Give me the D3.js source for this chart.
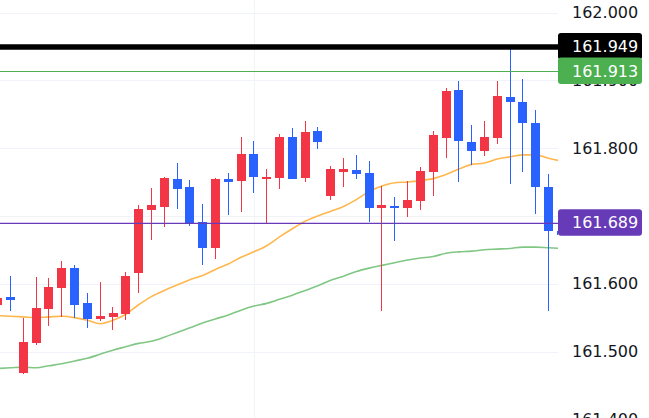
<!DOCTYPE html>
<html>
<head>
<meta charset="utf-8">
<script src="https://cdn.jsdelivr.net/npm/d3@7"></script>
<style>
  html, body { margin: 0; padding: 0; background: #ffffff; overflow: hidden; }
  svg { display: block; }
</style>
</head>
<body>
<div id="chart"></div>
<script>
// ---------- data ----------
const categories = d3.range(1, 46).map(String);
const open  = [161.568,161.581,161.469,161.513,161.562,161.594,161.623,161.571,161.548,161.551,161.555,161.616,161.709,161.713,161.754,161.743,161.691,161.653,161.754,161.752,161.791,161.756,161.756,161.816,161.756,161.825,161.730,161.765,161.768,161.764,161.711,161.715,161.712,161.722,161.765,161.815,161.886,161.809,161.796,161.815,161.875,161.868,161.837,161.743,161.678];
const high  = [161.588,161.611,161.549,161.610,161.608,161.633,161.628,161.586,161.603,161.566,161.617,161.716,161.741,161.757,161.778,161.753,161.718,161.756,161.763,161.816,161.810,161.769,161.821,161.830,161.840,161.831,161.774,161.785,161.790,161.781,161.744,161.728,161.751,161.772,161.825,161.889,161.899,161.834,161.840,161.899,161.949,161.902,161.856,161.762,161.685];
const low   = [161.564,161.560,161.467,161.510,161.537,161.551,161.550,161.534,161.545,161.531,161.546,161.587,161.664,161.684,161.710,161.685,161.627,161.637,161.702,161.706,161.734,161.689,161.739,161.755,161.750,161.798,161.724,161.742,161.755,161.691,161.560,161.663,161.699,161.709,161.729,161.786,161.750,161.775,161.788,161.806,161.747,161.765,161.703,161.560,161.665];
const close = [161.579,161.576,161.514,161.564,161.595,161.623,161.569,161.548,161.552,161.557,161.611,161.710,161.716,161.756,161.740,161.690,161.653,161.754,161.750,161.791,161.758,161.757,161.816,161.755,161.824,161.809,161.769,161.769,161.762,161.712,161.716,161.712,161.723,161.766,161.819,161.884,161.811,161.796,161.816,161.877,161.868,161.837,161.742,161.678,161.672];
const maFast = [161.553,161.552,161.551,161.550,161.551,161.552,161.550,161.546,161.541,161.546,161.555,161.569,161.581,161.590,161.598,161.606,161.612,161.621,161.629,161.639,161.647,161.656,161.669,161.681,161.692,161.700,161.707,161.714,161.724,161.736,161.744,161.749,161.750,161.752,161.755,161.761,161.769,161.776,161.778,161.784,161.787,161.790,161.790,161.785,161.781];
const maSlow = [161.475,161.476,161.477,161.476,161.479,161.482,161.486,161.490,161.496,161.502,161.507,161.512,161.515,161.521,161.528,161.535,161.542,161.548,161.554,161.561,161.567,161.571,161.577,161.583,161.590,161.597,161.605,161.611,161.618,161.623,161.627,161.631,161.635,161.638,161.640,161.645,161.647,161.648,161.650,161.651,161.652,161.654,161.654,161.653,161.652];
const tickValues = [161.4, 161.5, 161.6, 161.7, 161.8, 161.9, 162.0];
const levelValues = [161.949, 161.913, 161.689];
const levelLabels = ["161.949", "161.913", "161.689"];
const verticalGridCategories = ["21"];

// ---------- layout ----------
const W = 649, H = 418;
const plotRight = 558;
const upColor = "#f23645", downColor = "#2962ff";
const levelStyles = [
  { color: "#000000", width: 5.5, box: "#000000" },
  { color: "#4caf50", width: 1,   box: "#4caf50" },
  { color: "#673ab7", width: 1.3, box: "#673ab7" }
];

const svg = d3.select("#chart").append("svg").attr("width", W).attr("height", H);

const x = d3.scaleBand().domain(categories).range([-8.7, 567.7]).paddingInner(0.3).paddingOuter(0.15);
const y = d3.scaleLinear().domain([161.4, 162.0]).range([419.3, 12.5]);
const cx = c => x(c) + x.bandwidth() / 2;

svg.append("defs").append("clipPath").attr("id", "plotClip")
  .append("rect").attr("x", 0).attr("y", 0).attr("width", plotRight).attr("height", H);

const plot = svg.append("g").attr("clip-path", "url(#plotClip)");

// gridlines
plot.append("g").selectAll("line.h").data(tickValues).join("line")
  .attr("x1", 0).attr("x2", plotRight)
  .attr("y1", d => Math.round(y(d)) + 0.5).attr("y2", d => Math.round(y(d)) + 0.5)
  .attr("stroke", "#f0f3fa").attr("stroke-width", 1);
plot.append("g").selectAll("line.v").data(verticalGridCategories).join("line")
  .attr("x1", d => Math.round(cx(d)) + 0.5).attr("x2", d => Math.round(cx(d)) + 0.5)
  .attr("y1", 0).attr("y2", H)
  .attr("stroke", "#f0f3fa").attr("stroke-width", 1);

// moving averages
const line = d3.line().x((d, i) => cx(categories[i])).y(d => y(d)).curve(d3.curveMonotoneX);
plot.append("path").datum(maSlow).attr("d", line)
  .attr("fill", "none").attr("stroke", "#81c784").attr("stroke-width", 1.6);
plot.append("path").datum(maFast).attr("d", line)
  .attr("fill", "none").attr("stroke", "#ffb74d").attr("stroke-width", 1.6);

// candles
const candles = categories.map((c, i) => ({ c, o: open[i], h: high[i], l: low[i], cl: close[i] }));
const cg = plot.append("g").attr("shape-rendering", "crispEdges");
cg.selectAll("rect.wick").data(candles).join("rect")
  .attr("x", d => Math.floor(cx(d.c)))
  .attr("width", 1)
  .attr("y", d => y(d.h))
  .attr("height", d => Math.max(1, y(d.l) - y(d.h)))
  .attr("fill", d => d.cl >= d.o ? upColor : downColor);
cg.selectAll("rect.body").data(candles).join("rect")
  .attr("x", d => Math.round(x(d.c)))
  .attr("width", Math.round(x.bandwidth()))
  .attr("y", d => y(Math.max(d.o, d.cl)))
  .attr("height", d => Math.max(1.5, Math.abs(y(d.o) - y(d.cl))))
  .attr("fill", d => d.cl >= d.o ? upColor : downColor);

// level lines
plot.append("g").selectAll("line").data(levelValues).join("line")
  .attr("x1", 0).attr("x2", plotRight)
  .attr("y1", d => y(d)).attr("y2", d => y(d))
  .attr("stroke", (d, i) => levelStyles[i].color)
  .attr("stroke-width", (d, i) => levelStyles[i].width);

// price axis
const axis = d3.axisRight(y).tickValues(tickValues).tickFormat(d3.format(".3f")).tickSize(0).tickPadding(14);
const ag = svg.append("g").attr("transform", `translate(${plotRight},0)`).call(axis);
ag.select(".domain").remove();
ag.selectAll("text")
  .attr("font-family", "DejaVu Sans, sans-serif")
  .attr("font-size", 16)
  .attr("fill", "#131722");

// level labels
const lg = svg.append("g");
levelValues.forEach((v, i) => {
  const g = lg.append("g");
  g.append("rect")
    .attr("x", plotRight).attr("y", y(v) - 14)
    .attr("width", 84).attr("height", 26.5)
    .attr("rx", 3).attr("fill", levelStyles[i].box);
  g.append("text")
    .attr("x", plotRight + 14).attr("y", y(v)).attr("dy", "0.32em")
    .attr("font-family", "DejaVu Sans, sans-serif")
    .attr("font-size", 16).attr("fill", "#ffffff")
    .text(levelLabels[i]);
});
</script>
</body>
</html>
